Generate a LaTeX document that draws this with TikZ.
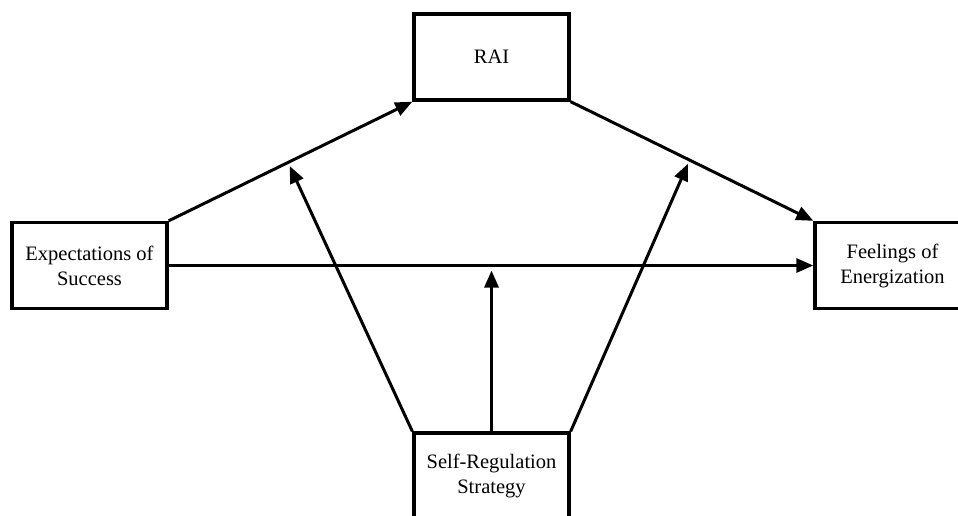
\documentclass[tikz,border=0pt]{standalone}
\usepackage{fontspec}
\setmainfont{Liberation Serif}
\usetikzlibrary{arrows.meta,calc}
\begin{document}
\begin{tikzpicture}[x=1pt,y=-1pt,
  box/.style={draw,line width=3.4pt,minimum width=155pt,minimum height=86pt,inner sep=0pt,align=center,font=\fontsize{20.5}{25}\selectfont},
  arr/.style={line width=3pt,-{Triangle[length=17pt,width=14pt]}}]
\useasboundingbox (0,0) rectangle (958,515);
\clip (0,0) rectangle (958,515);
\fill[white] (0,0) rectangle (958,515);
\node[box] (rai) at (491.5,57) {RAI};
\node[box] (exp) at (89.5,265.5) {Expectations of\\Success};
\node[box] (feel) at (892.5,265.5) {Feelings of\\Energization};
\node[box] (srs) at (491.5,476) {Self-Regulation\\Strategy};
\coordinate (m1) at ($(exp.north east)!0.49!(rai.south west)$);
\coordinate (m2) at ($(rai.south east)!0.49!(feel.north west)$);
\draw[arr] (exp.north east) -- (rai.south west);
\draw[arr] (rai.south east) -- (feel.north west);
\draw[arr] (exp.east) -- (feel.west);
\draw[arr,shorten >=4pt] (srs.north west) -- (m1);
\draw[arr,shorten >=4pt] (srs.north east) -- (m2);
\draw[arr,shorten >=5pt] (srs.north) -- (srs.north |- exp.east);
\end{tikzpicture}
\end{document}
